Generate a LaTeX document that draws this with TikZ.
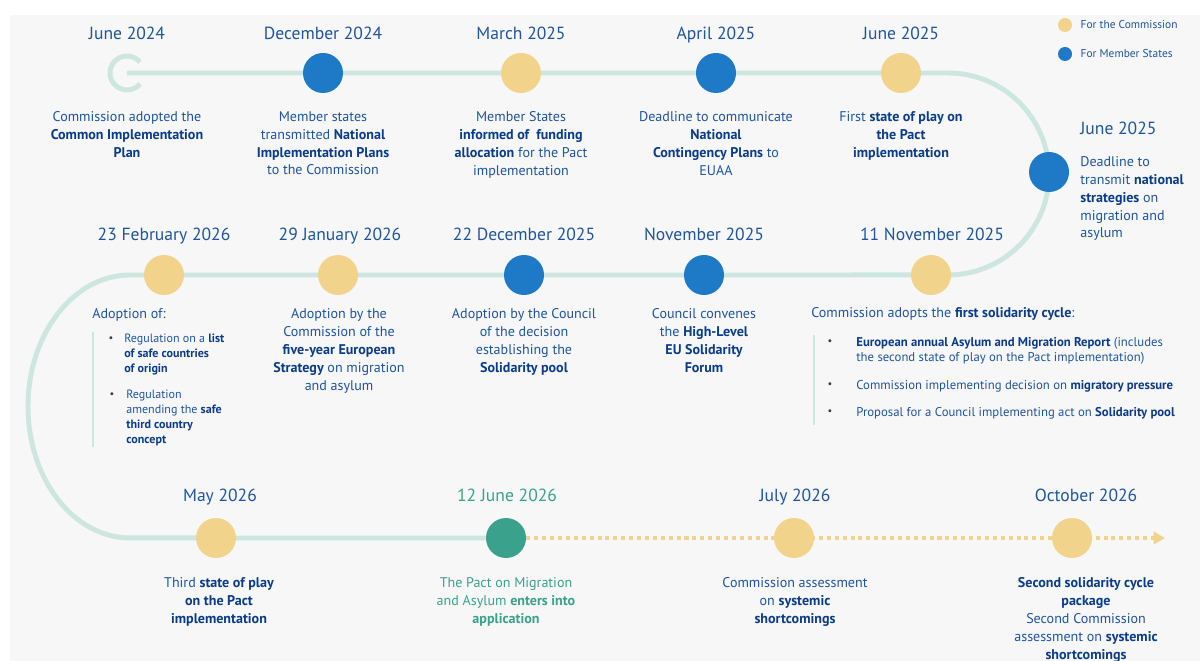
\documentclass[tikz,border=0pt]{standalone}
\usepackage{fontspec}
\setmainfont{PT Sans}
\usetikzlibrary{arrows.meta,positioning,backgrounds}

\definecolor{eutext}{HTML}{1F559F}
\definecolor{eubold}{HTML}{0B3C8A}
\definecolor{track}{HTML}{CDE6DF}
\definecolor{comm}{HTML}{F2D38B}
\definecolor{member}{HTML}{1E79C6}
\definecolor{pactgreen}{HTML}{3AA28C}
\definecolor{bggray}{HTML}{F7F7F7}

\newcommand{\kw}[1]{\textbf{\color{eubold}#1}}

\tikzset{
  eventdot/.style={circle, minimum size=0.8cm, inner sep=0pt},
  keydot/.style={circle, minimum size=0.28cm, inner sep=0pt},
  keytext/.style={text=eutext, font=\fontsize{6.5}{8}\selectfont, inner sep=0pt, anchor=west},
  datetext/.style={text=eutext, font=\fontsize{10}{12}\selectfont, inner sep=0pt, anchor=base},
  desc/.style={text=eutext, font=\fontsize{8}{10.2}\selectfont, align=center, inner sep=0pt, anchor=north},
  leftdesc/.style={desc, align=left, anchor=north west},
  smalltext/.style={leftdesc, font=\fontsize{6.85}{8.5}\selectfont},
  listtext/.style={leftdesc, font=\fontsize{7.25}{8.5}\selectfont},
  bulletmark/.style={text=black!75, font=\fontsize{6}{8}\selectfont, inner sep=0pt},
  trackline/.style={draw=track, line width=2.8pt},
  barline/.style={draw=track, line width=1.6pt},
  dotline/.style={draw=comm, line width=2.3pt, dash pattern=on 2.3pt off 2.2pt}
}

\begin{document}
\begin{tikzpicture}[x=0.02cm, y=-0.02cm]
    \useasboundingbox (0,0) rectangle (1200,661);

    % legend
    \node[keydot, fill=comm] (keycomm) at (1065,25) {};
    \node[keytext, right=0.16cm of keycomm] (keycommtext) {For the Commission};
    \node[keydot, fill=member] (keyms) at (1065,54) {};
    \node[keytext, right=0.16cm of keyms] (keymstext) {For Member States};

    % first row
    \coordinate (jun24) at (127,73);
    \node[eventdot, fill=member] (dec24) at (323,73) {};
    \node[eventdot, fill=comm] (mar25) at (521,73) {};
    \node[eventdot, fill=member] (apr25) at (716,73) {};
    \node[eventdot, fill=comm] (jun25) at (901,73) {};
    \node[eventdot, fill=member] (jun25b) at (1049,172) {};
    \coordinate (turnA) at (948,73);

    % second row
    \node[eventdot, fill=comm] (nov25b) at (931,275) {};
    \node[eventdot, fill=member] (nov25) at (704,275) {};
    \node[eventdot, fill=member] (dec25) at (524,275) {};
    \node[eventdot, fill=comm] (jan26) at (338,275) {};
    \node[eventdot, fill=comm] (feb26) at (164,275) {};
    \coordinate (turnB) at (130,275);

    % third row
    \node[eventdot, fill=comm] (may26) at (216,538) {};
    \node[eventdot, fill=pactgreen] (jun26) at (506,538) {};
    \node[eventdot, fill=comm] (jul26) at (794,538) {};
    \node[eventdot, fill=comm] (oct26) at (1072,538) {};
    \coordinate (arrowtip) at (1165,538);

    \begin{scope}[on background layer]
        \fill[bggray] (10,15) rectangle (1200,661);
        \draw[trackline] (jun24) -- (turnA) arc[start angle=90, end angle=-90, radius=2.02cm]
            -- (turnB) arc[start angle=90, end angle=270, x radius=2.04cm, y radius=2.63cm] -- (jun26);
        \draw[dotline, -{Triangle[length=6.5pt, width=7pt]}] (jun26) -- (arrowtip);
    \end{scope}
    \draw[trackline] (jun24) ++(40:0.34cm) arc[start angle=40, end angle=320, radius=0.34cm];

    % dates
    \node[datetext] (t-jun24) at (127,40) {June 2024};
    \node[datetext] (t-dec24) at (323,40) {December 2024};
    \node[datetext] (t-mar25) at (521,40) {March 2025};
    \node[datetext] (t-apr25) at (716,40) {April 2025};
    \node[datetext] (t-jun25) at (901,40) {June 2025};
    \node[datetext, anchor=base west] (t-jun25b) at (1080,135) {June 2025};
    \node[datetext] (t-feb26) at (164,241) {23 February 2026};
    \node[datetext] (t-jan26) at (340,241) {29 January 2026};
    \node[datetext] (t-dec25) at (524,241) {22 December 2025};
    \node[datetext] (t-nov25) at (704,241) {November 2025};
    \node[datetext] (t-nov25b) at (932,241) {11 November 2025};
    \node[datetext] (t-may26) at (220,502) {May 2026};
    \node[datetext, text=pactgreen] (t-jun26) at (507,502) {12 June 2026};
    \node[datetext] (t-jul26) at (795,502) {July 2026};
    \node[datetext] (t-oct26) at (1086,502) {October 2026};

    % descriptions
    \node[desc] (d-jun24) at (127,111) {Commission adopted the\\ \kw{Common Implementation}\\ \kw{Plan}};
    \node[desc] (d-dec24) at (323,111) {Member states\\ transmitted \kw{National}\\ \kw{Implementation Plans}\\ to the Commission};
    \node[desc] (d-mar25) at (521,111) {Member States\\ \kw{informed of\ \ funding}\\ \kw{allocation} for the Pact\\ implementation};
    \node[desc] (d-apr25) at (716,111) {Deadline to communicate\\ \kw{National}\\ \kw{Contingency Plans} to\\ EUAA};
    \node[desc] (d-jun25) at (901,111) {First \kw{state of play on}\\ \kw{the Pact}\\ \kw{implementation}};
    \node[leftdesc] (d-jun25b) at (1080,156) {Deadline to\\ transmit \kw{national}\\ \kw{strategies} on\\ migration and\\ asylum};

    \node[leftdesc] (d-feb26) at (92,308) {Adoption of:};
    \draw[barline] (93,332) -- (93,447);
    \node[bulletmark] (b-list) at (111,339) {\textbullet};
    \node[smalltext] (d-list) at (124,334) {Regulation on a \kw{list}\\ \kw{of safe countries}\\ \kw{of origin}};
    \node[bulletmark] (b-safe) at (112,395) {\textbullet};
    \node[smalltext] (d-safe) at (126,390) {Regulation\\ amending the \kw{safe}\\ \kw{third country}\\ \kw{concept}};
    \node[desc] (d-jan26) at (339,308) {Adoption by the\\ Commission of the\\ \kw{five-year European}\\ \kw{Strategy} on migration\\ and asylum};
    \node[desc] (d-dec25) at (524,308) {Adoption by the Council\\ of the decision\\ establishing the\\ \kw{Solidarity pool}};
    \node[desc] (d-nov25) at (704,308) {Council convenes\\ the \kw{High-Level}\\ \kw{EU Solidarity}\\ \kw{Forum}};
    \node[leftdesc] (d-nov25b) at (811,307) {Commission adopts the \kw{first solidarity cycle}:};
    \draw[barline] (814,335) -- (814,425);
    \node[bulletmark] (b-report) at (830,342) {\textbullet};
    \node[listtext] (d-report) at (856,337) {\kw{European annual Asylum and Migration Report} (includes\\ the second state of play on the Pact implementation)};
    \node[bulletmark] (b-pressure) at (830,385) {\textbullet};
    \node[listtext] (d-pressure) at (856,380) {Commission implementing decision on \kw{migratory pressure}};
    \node[bulletmark] (b-pool) at (830,412) {\textbullet};
    \node[listtext] (d-pool) at (856,407) {Proposal for a Council implementing act on \kw{Solidarity pool}};

    \node[desc] (d-may26) at (219,577) {Third \kw{state of play}\\ \kw{on the Pact}\\ \kw{implementation}};
    \node[desc, text=pactgreen] (d-jun26) at (506,577) {The Pact on Migration\\ and Asylum \textbf{enters into}\\ \textbf{application}};
    \node[desc] (d-jul26) at (795,577) {Commission assessment\\ on \kw{systemic}\\ \kw{shortcomings}};
    \node[desc] (d-oct26) at (1086,577) {\kw{Second solidarity cycle}\\ \kw{package}\\ Second Commission\\ assessment on \kw{systemic}\\ \kw{shortcomings}};
\end{tikzpicture}
\end{document}
